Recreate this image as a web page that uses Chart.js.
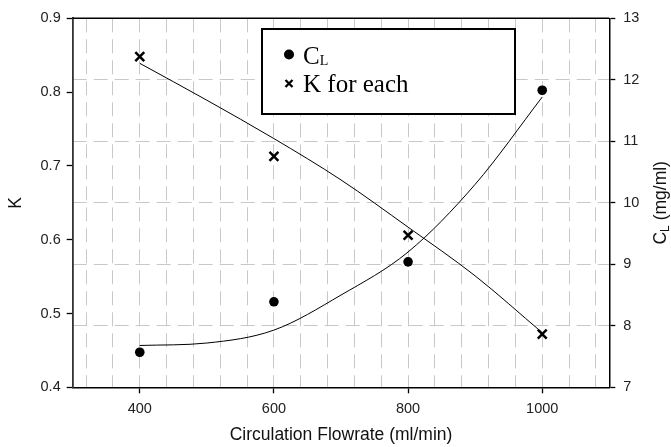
<!DOCTYPE html>
<html>
<head>
<meta charset="utf-8">
<script src="https://cdn.jsdelivr.net/npm/chart.js@4/dist/chart.umd.min.js"></script>
<style>
  html, body { margin: 0; padding: 0; background: #fff; }
  #wrap { width: 671px; height: 447px; }
</style>
</head>
<body>
<div id="wrap"><canvas id="grafica" width="671" height="447"></canvas></div>
<script>
// measured points
const flow = [400, 600, 800, 1000];
const clValues = [7.57, 8.39, 9.04, 11.83];
const kValues = [0.848, 0.713, 0.606, 0.472];

// fitted curves, read at every 100 ml/min
const curveFlow = [400, 500, 600, 700, 800, 900, 1000];
const clCurve = [7.68, 7.72, 7.93, 8.5, 9.2, 10.3, 11.72];
const kCurve = [0.839, 0.789, 0.737, 0.681, 0.617, 0.551, 0.474];

// axes
const xLabels = [400, 600, 800, 1000];
const kTicks = [0.4, 0.5, 0.6, 0.7, 0.8, 0.9];
const clTicks = [7, 8, 9, 10, 11, 12, 13];

const X_MIN = 300, X_MAX = 1100, X_GRID_STEP = 40;

const GRID = '#c8c8c8';
const DASH = [14, 7];
const tickFont = { family: 'Liberation Sans, Arial, sans-serif', size: 14.5 };
const titleFont = { family: 'Liberation Sans, Arial, sans-serif', size: 17.5 };

const pts = (xs, ys) => xs.map((x, i) => ({ x: x, y: ys[i] }));

// frame top line, right-hand title and the boxed legend
const extras = {
  id: 'extras',
  afterDraw(chart) {
    const ctx = chart.ctx;
    const a = chart.chartArea;
    ctx.save();

    ctx.strokeStyle = '#000';
    ctx.lineWidth = 1.5;
    ctx.beginPath();
    ctx.moveTo(a.left, a.top);
    ctx.lineTo(a.right, a.top);
    ctx.stroke();

    // C_L (mg/ml), reading upward
    ctx.translate(661.5, (a.top + a.bottom) / 2);
    ctx.rotate(-Math.PI / 2);
    ctx.fillStyle = '#111';
    ctx.textBaseline = 'middle';
    ctx.textAlign = 'left';
    const f1 = titleFont.size + 'px ' + titleFont.family;
    const f2 = '12px ' + titleFont.family;
    ctx.font = f1;
    const wC = ctx.measureText('C').width;
    const wRest = ctx.measureText(' (mg/ml)').width;
    ctx.font = f2;
    const wL = ctx.measureText('L').width;
    let x0 = -(wC + wL + wRest) / 2;
    ctx.font = f1;
    ctx.fillText('C', x0, 0);
    ctx.font = f2;
    ctx.fillText('L', x0 + wC, 4.5);
    ctx.font = f1;
    ctx.fillText(' (mg/ml)', x0 + wC + wL, 0);
    ctx.restore();

    // legend
    ctx.save();
    ctx.fillStyle = '#fff';
    ctx.fillRect(262, 29, 253, 85);
    ctx.strokeStyle = '#000';
    ctx.lineWidth = 2;
    ctx.strokeRect(262, 29, 253, 85);

    ctx.fillStyle = '#000';
    ctx.beginPath();
    ctx.arc(289, 54.5, 5, 0, Math.PI * 2);
    ctx.fill();

    ctx.lineWidth = 2.3;
    ctx.beginPath();
    ctx.moveTo(285.5, 80); ctx.lineTo(292.5, 87);
    ctx.moveTo(292.5, 80); ctx.lineTo(285.5, 87);
    ctx.stroke();

    ctx.textBaseline = 'alphabetic';
    ctx.textAlign = 'left';
    ctx.font = '25px "Liberation Serif", serif';
    ctx.fillText('C', 303, 63.5);
    const cw = ctx.measureText('C').width;
    ctx.font = '14px "Liberation Serif", serif';
    ctx.fillText('L', 303 + cw, 65);
    ctx.font = '25px "Liberation Serif", serif';
    ctx.fillText('K for each', 303, 91.5);
    ctx.restore();
  }
};

const ctx = document.getElementById('grafica').getContext('2d');
new Chart(ctx, {
  type: 'scatter',
  data: {
    datasets: [
      {
        label: 'CL',
        data: pts(flow, clValues),
        yAxisID: 'y1',
        pointStyle: 'circle',
        pointRadius: 4.8,
        backgroundColor: '#000',
        borderColor: '#000',
        borderWidth: 0
      },
      {
        label: 'K for each',
        data: pts(flow, kValues),
        yAxisID: 'y',
        pointStyle: 'crossRot',
        pointRadius: 6.3,
        borderColor: '#000',
        borderWidth: 2.5
      },
      {
        label: 'CL fit',
        data: pts(curveFlow, clCurve),
        yAxisID: 'y1',
        showLine: true,
        cubicInterpolationMode: 'monotone',
        pointRadius: 0,
        borderColor: '#000',
        borderWidth: 1
      },
      {
        label: 'K fit',
        data: pts(curveFlow, kCurve),
        yAxisID: 'y',
        showLine: true,
        cubicInterpolationMode: 'monotone',
        pointRadius: 0,
        borderColor: '#000',
        borderWidth: 1
      }
    ]
  },
  options: {
    responsive: false,
    animation: false,
    devicePixelRatio: 1,
    layout: { padding: { top: 18.3, left: 0, right: 0, bottom: 0 } },
    plugins: {
      legend: { display: false },
      tooltip: { enabled: false }
    },
    scales: {
      x: {
        type: 'linear',
        position: 'bottom',
        min: X_MIN,
        max: X_MAX,
        afterBuildTicks: scale => {
          const t = [];
          for (let v = X_MIN + X_GRID_STEP / 2; v < X_MAX; v += X_GRID_STEP) t.push({ value: v });
          scale.ticks = t;
        },
        afterFit: scale => { scale.height = 59.7; },
        ticks: {
          autoSkip: false,
          maxRotation: 0,
          padding: 7,
          color: '#222',
          font: tickFont,
          callback: v => xLabels.includes(v) ? String(v) : ''
        },
        grid: {
          color: GRID,
          lineWidth: 1,
          tickLength: 6,
          tickWidth: 1.3,
          tickColor: c => xLabels.includes(c.tick && c.tick.value) ? '#000' : 'rgba(0,0,0,0)'
        },
        border: { color: '#000', width: 1.5, dash: DASH },
        title: {
          display: true,
          text: 'Circulation Flowrate (ml/min)',
          color: '#111',
          font: titleFont,
          padding: { top: 0, bottom: 1 }
        }
      },
      y: {
        position: 'left',
        min: 0.4,
        max: 0.9,
        afterBuildTicks: scale => { scale.ticks = kTicks.map(v => ({ value: v })); },
        afterFit: scale => { scale.width = 72.7; },
        ticks: {
          padding: 6,
          color: '#222',
          font: tickFont,
          callback: v => v.toFixed(1)
        },
        grid: {
          drawOnChartArea: false,
          tickLength: 6,
          tickWidth: 1.3,
          tickColor: '#000'
        },
        border: { color: '#333', width: 1.8 },
        title: {
          display: true,
          text: 'K',
          color: '#111',
          font: titleFont,
          padding: { top: 6, bottom: 0 }
        }
      },
      y1: {
        position: 'right',
        min: 7,
        max: 13,
        afterBuildTicks: scale => { scale.ticks = clTicks.map(v => ({ value: v })); },
        afterFit: scale => { scale.width = 61.7; },
        ticks: {
          padding: 8,
          color: '#222',
          font: tickFont
        },
        grid: {
          color: c => {
            const v = c.tick && c.tick.value;
            return (v > 7 && v < 13) ? GRID : 'rgba(0,0,0,0)';
          },
          lineWidth: 1,
          tickLength: 6,
          tickWidth: 1.3,
          tickColor: '#000'
        },
        border: { color: '#000', width: 1.5, dash: DASH }
      }
    }
  },
  plugins: [extras]
});
</script>
</body>
</html>
